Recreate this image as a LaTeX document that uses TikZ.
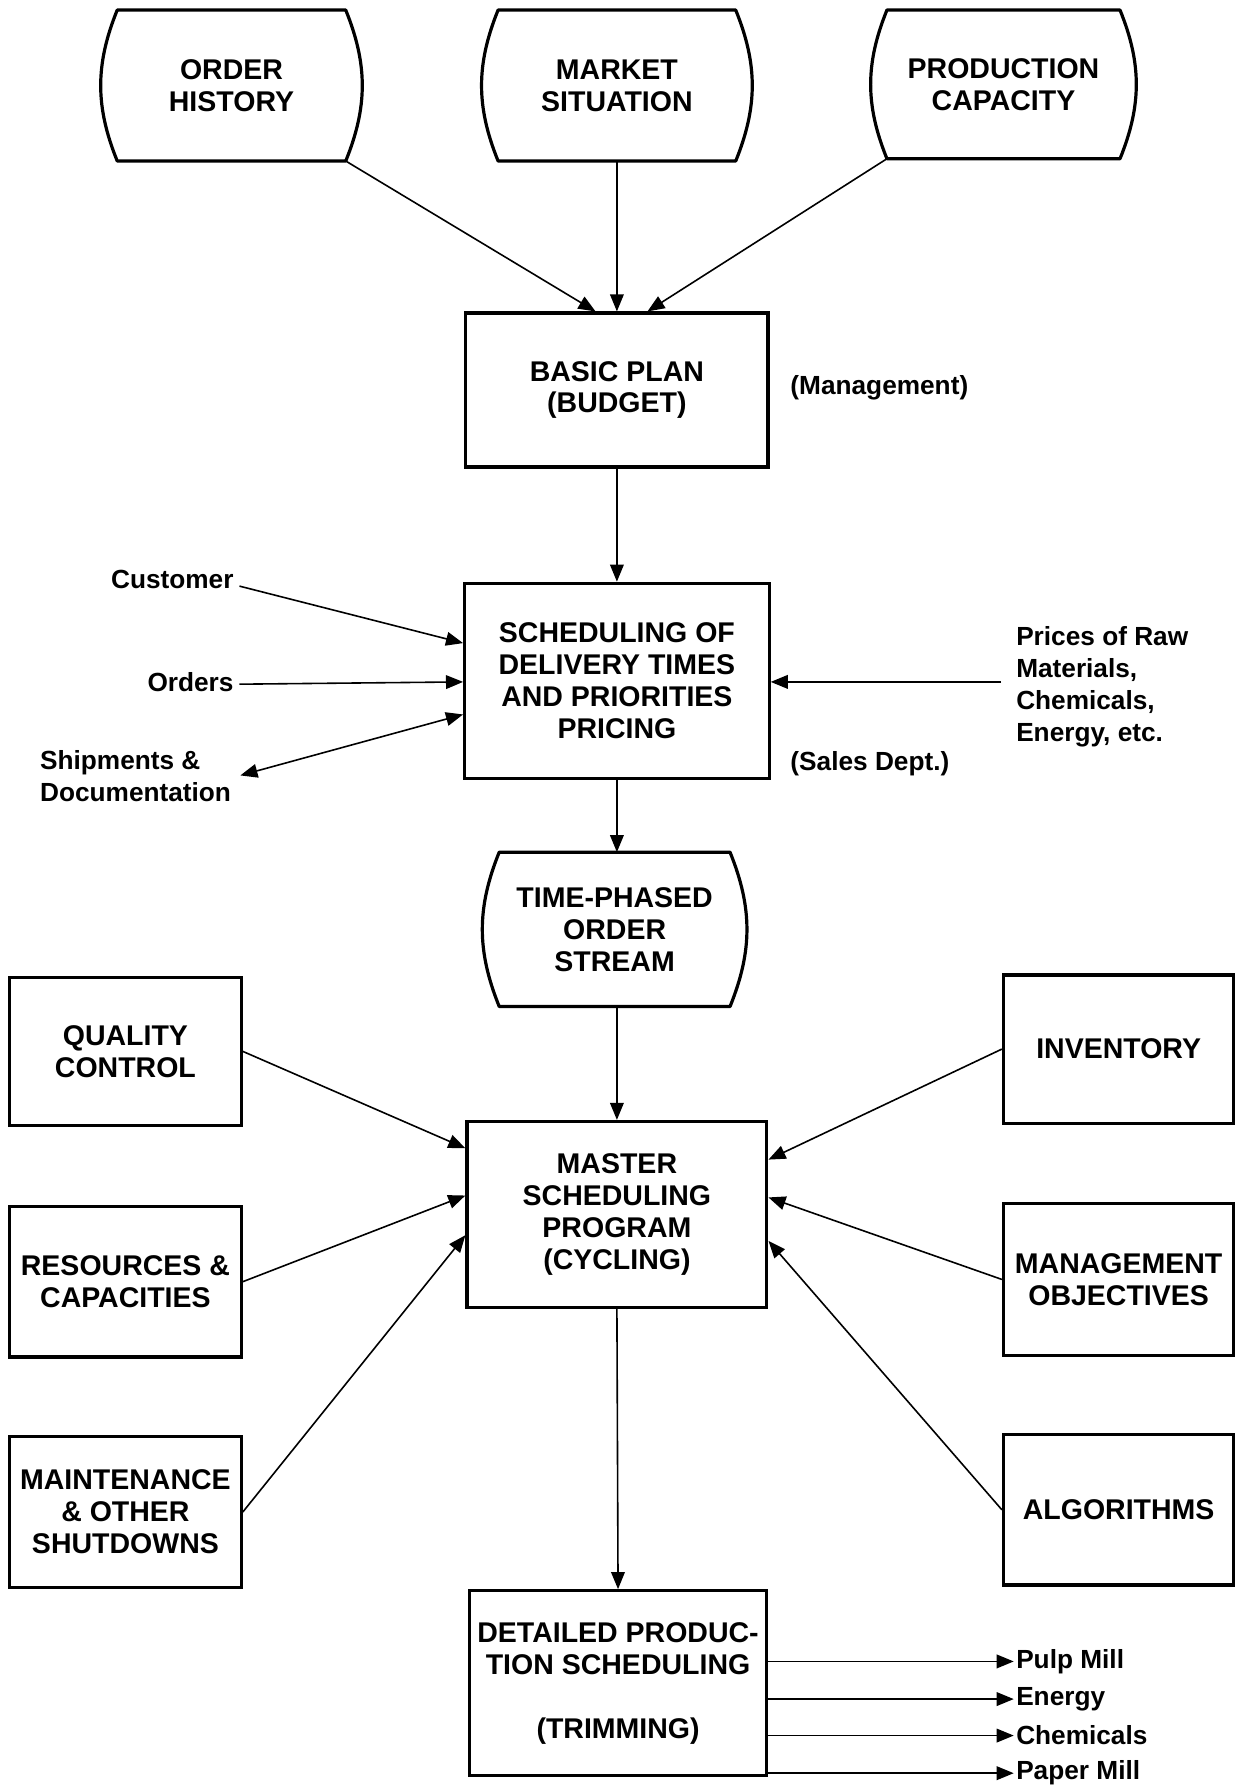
\documentclass[tikz,border=0pt]{standalone}
\usepackage{fontspec}
\setmainfont{Liberation Sans}
\usetikzlibrary{calc,arrows.meta}

\begin{document}
\begin{tikzpicture}[x=1pt,y=-1pt,
    box/.style={draw, line width=2.8pt, inner sep=2pt, align=center,
        font=\bfseries\fontsize{25}{28}\selectfont},
    term/.style={inner sep=2pt, align=center,
        font=\bfseries\fontsize{25}{28}\selectfont},
    lbl/.style={inner sep=2pt, font=\bfseries\fontsize{23}{28}\selectfont},
    flow/.style={line width=1.4pt, -{Triangle[length=15pt,width=12pt]}}]
    \useasboundingbox (0,0) rectangle (1084,1568);

    % Source terminals
    \node[term, minimum width=200pt, minimum height=132pt] (oh) at (203,75) {ORDER\\HISTORY};
    \node[term, minimum width=208pt, minimum height=132pt] (ms) at (541,75) {MARKET\\SITUATION};
    \node[term, minimum width=204pt, minimum height=130pt] (pc) at (880,74) {PRODUCTION\\CAPACITY};

    % Main column
    \node[box, minimum width=265pt, minimum height=135pt] (bp) at (541,342) {BASIC PLAN\\(BUDGET)};
    \node[box, minimum width=267pt, minimum height=171pt] (sched) at (541,597)
        {SCHEDULING OF\\DELIVERY TIMES\\AND PRIORITIES\\PRICING};
    \node[term, minimum width=202pt, minimum height=135pt] (tp) at (539,815) {TIME-PHASED\\ORDER\\STREAM};
    \node[box, minimum width=263pt, minimum height=163pt] (master) at (541,1065)
        {MASTER\\SCHEDULING\\PROGRAM\\(CYCLING)};
    \node[box, minimum width=261pt, minimum height=162pt] (det) at (542,1476)
        {DETAILED PRODUC-\\TION SCHEDULING\\[28pt](TRIMMING)};

    % Terminal outlines
    \foreach \t in {oh,ms,pc,tp} {
        \draw[line width=2.8pt, line join=round] (\t.north west) -- (\t.north east)
            to[bend left=22] (\t.south east) -- (\t.south west)
            to[bend left=22] (\t.north west) -- cycle;
    }

    % Side boxes
    \node[box, minimum width=203pt, minimum height=130pt] (qc) at (110,922) {QUALITY\\CONTROL};
    \node[box, minimum width=203pt, minimum height=132pt] (rc) at (110,1124) {RESOURCES \&\\CAPACITIES};
    \node[box, minimum width=203pt, minimum height=132pt] (mt) at (110,1326) {MAINTENANCE\\\& OTHER\\SHUTDOWNS};
    \node[box, minimum width=202pt, minimum height=130pt] (inv) at (981,920) {INVENTORY};
    \node[box, minimum width=202pt, minimum height=133pt] (mo) at (981,1122) {MANAGEMENT\\OBJECTIVES};
    \node[box, minimum width=202pt, minimum height=132pt] (alg) at (981,1324) {ALGORITHMS};

    % Labels
    \node[lbl, anchor=west] (mgmt) at (691,340) {(Management)};
    \node[lbl, anchor=west] (sales) at (691,670) {(Sales Dept.)};
    \node[lbl, anchor=east] (cust) at (207,508) {Customer};
    \node[lbl, anchor=east] (ord) at (207,598) {Orders};
    \node[lbl, anchor=west, align=left] (ship) at (33,681) {Shipments \&\\Documentation};
    \node[lbl, anchor=west, align=left] (raw) at (889,602) {Prices of Raw\\Materials,\\Chemicals,\\Energy, etc.};

    % Inputs to basic plan
    \draw[flow] (oh.south east) -- ($(bp.north west)!0.43!(bp.north east)$);
    \draw[flow] (ms.south) -- (bp.north);
    \draw[flow] (pc.south west) -- ($(bp.north west)!0.6!(bp.north east)$);

    % Down the main column
    \draw[flow] (bp.south) -- (sched.north);
    \draw[flow] (sched.south) -- (tp.north -| sched.south);
    \draw[flow] (tp.south -| master.north) -- (master.north);
    \draw[flow] (master.south) -- (det.north);

    % Sales inputs
    \draw[flow] ($(cust.east)+(3,6)$) -- ($(sched.north west)!0.31!(sched.south west)$);
    \draw[flow] ($(ord.east)+(3,2)$) -- (sched.west |- ord.east);
    \draw[flow, {Triangle[length=15pt,width=12pt]}-{Triangle[length=15pt,width=12pt]}]
        ($(ship.east)+(6,-1)$) -- ($(sched.north west)!0.67!(sched.south west)$);
    \draw[flow] ($(raw.west)+(-11,-4)$) -- (sched.east |- 0,598);

    % Inputs to master scheduling
    \draw[flow] (qc.east) -- ($(master.north west)!0.15!(master.south west)$);
    \draw[flow] (rc.east) -- ($(master.north west)!0.40!(master.south west)$);
    \draw[flow] (mt.east) -- ($(master.north west)!0.61!(master.south west)$);
    \draw[flow] (inv.west) -- ($(master.north east)!0.21!(master.south east)$);
    \draw[flow] (mo.west) -- ($(master.north east)!0.41!(master.south east)$);
    \draw[flow] (alg.west) -- ($(master.north east)!0.64!(master.south east)$);

    % Outputs
    \foreach \txt/\yy [count=\i] in {Pulp Mill/1457, Energy/1490, Chemicals/1522, Paper Mill/1555} {
        \node[lbl, anchor=west] (out\i) at (889,\yy) {\txt};
        \draw[flow] (det.east |- out\i.west) -- (out\i.west);
    }
\end{tikzpicture}
\end{document}
